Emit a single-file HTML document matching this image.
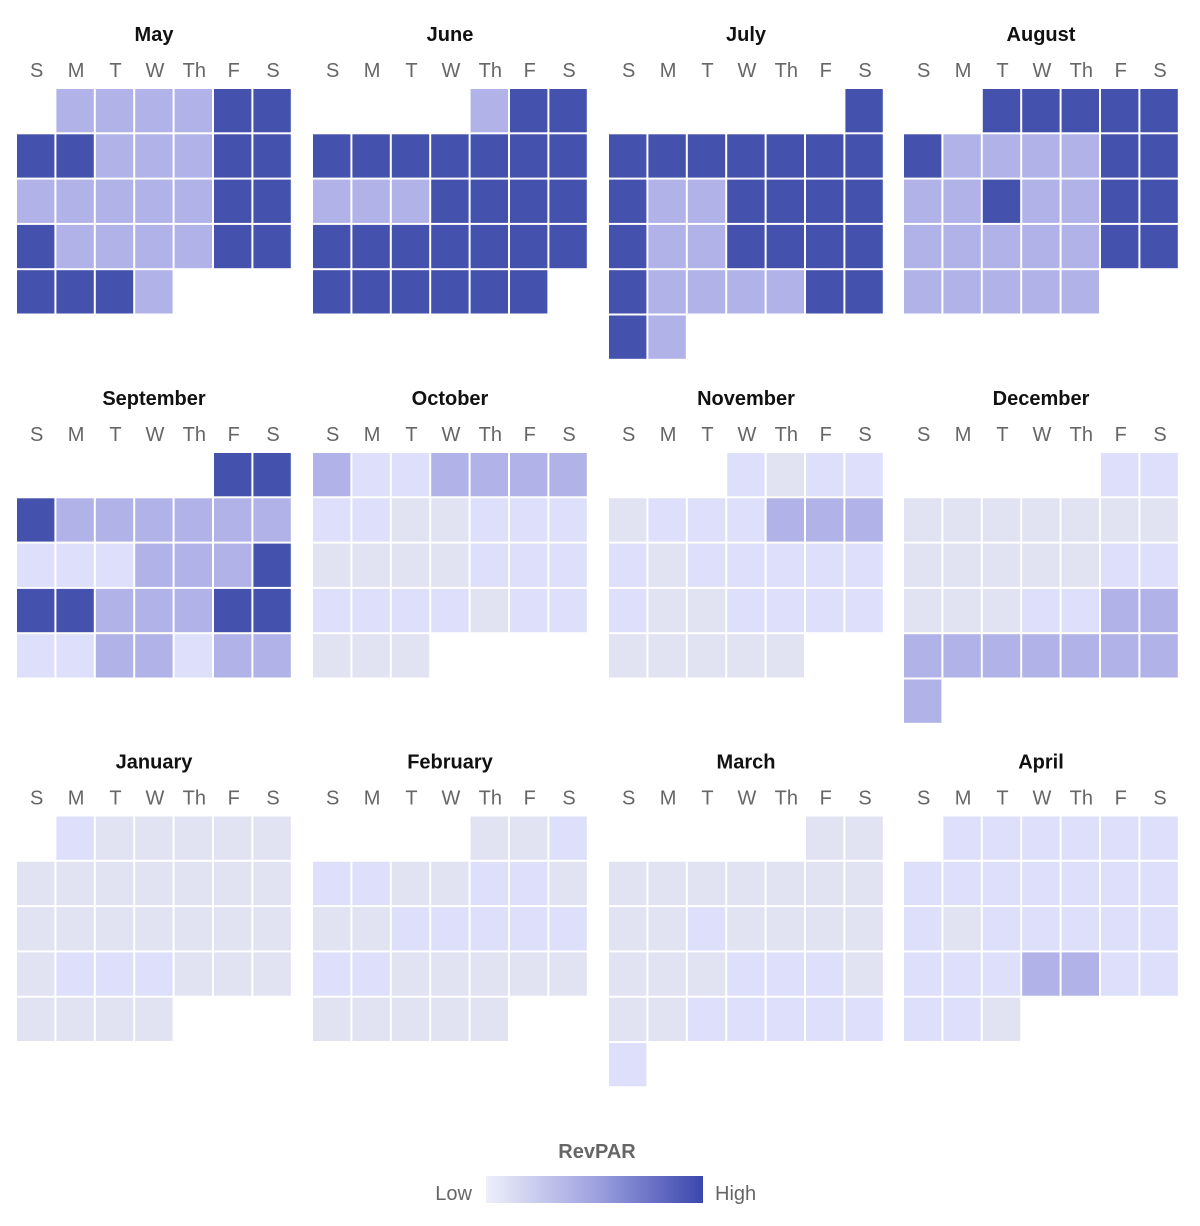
<!DOCTYPE html><html><head><style>body{margin:0;background:#fff}</style></head><body>
<svg width="1200" height="1221" xmlns="http://www.w3.org/2000/svg" font-family="Liberation Sans, sans-serif">
<defs><linearGradient id="g"><stop offset="0" stop-color="#eeeffa"/><stop offset="0.5" stop-color="#9fa3e0"/><stop offset="1" stop-color="#3a47ad"/></linearGradient></defs>
<g id="c"></g>
<text x="597" y="1158" text-anchor="middle" font-size="20" font-weight="bold" fill="#666">RevPAR</text>
<rect x="486" y="1176" width="217" height="27" fill="url(#g)"/>
<text x="472" y="1200" text-anchor="end" font-size="20" fill="#666">Low</text>
<text x="715" y="1200" font-size="20" fill="#666">High</text>
</svg>
<script>
const C={D:"#4451ad",M:"#b0b2e8",L:"#dedffa",G:"#e1e2f2"};
const months=[
["May",[".MMMMDD","DDMMMDD","MMMMMDD","DMMMMDD","DDDM..."]],
["June",["....MDD","DDDDDDD","MMMDDDD","DDDDDDD","DDDDDD."]],
["July",["......D","DDDDDDD","DMMDDDD","DMMDDDD","DMMMMDD","DM....."]],
["August",["..DDDDD","DMMMMDD","MMDMMDD","MMMMMDD","MMMMM.."]],
["September",[".....DD","DMMMMMM","LLLMMMD","DDMMMDD","LLMMLMM"]],
["October",["MLLMMMM","LLGGLLL","GGGGLLL","LLLLGLL","GGG...."]],
["November",["...LGLL","GLLLMMM","LGLLLLL","LGGLLLL","GGGGG.."]],
["December",[".....LL","GGGGGGG","GGGGGLL","GGGLLMM","MMMMMMM","M......"]],
["January",[".LGGGGG","GGGGGGG","GGGGGGG","GLLLGGG","GGGG..."]],
["February",["....GGL","LLGGLLG","GGLLLLL","LLGGGGG","GGGGG.."]],
["March",[".....GG","GGGGGGG","GGLGGGG","GGGLLLG","GGLLLLL","L......"]],
["April",[".LLLLLL","LLLLLLL","LGLLLLL","LLLMMLL","LLG...."]]];
const X=[17,313,609,904],Y=[89,453,816.5],pw=39.4,ph=45.3,days=["S","M","T","W","Th","F","S"];
let s="";
months.forEach((m,i)=>{const x0=X[i%4],y0=Y[Math.floor(i/4)];
s+=`<text x="${x0+137}" y="${y0-48}" text-anchor="middle" font-size="20" font-weight="bold" fill="#111">${m[0]}</text>`;
days.forEach((d,j)=>s+=`<text x="${x0+pw*j+pw/2}" y="${y0-12}" text-anchor="middle" font-size="20" fill="#666">${d}</text>`);
m[1].forEach((r,ri)=>[...r].forEach((ch,j)=>{if(C[ch])s+=`<rect x="${x0+pw*j}" y="${y0+ph*ri}" width="${pw-2}" height="${ph-2}" fill="${C[ch]}"/>`;}));});
document.getElementById("c").innerHTML=s;
</script>
</body></html>
